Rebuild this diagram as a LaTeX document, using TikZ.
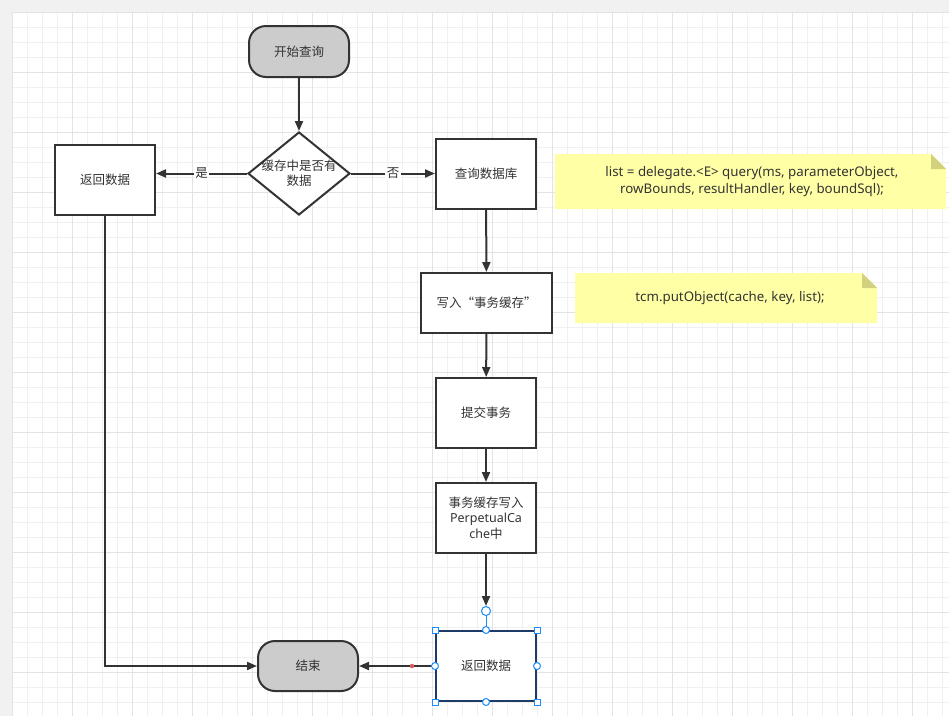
\documentclass[tikz,border=0pt]{standalone}
\usepackage{fontspec}
\setmainfont{Noto Sans CJK SC}
\newfontfamily\latinf{Noto Sans}
\usetikzlibrary{shapes.geometric,arrows.meta}
\definecolor{ln}{HTML}{333333}
\definecolor{txt}{HTML}{333333}
\definecolor{gry}{HTML}{CCCCCC}
\definecolor{bggray}{HTML}{F1F1F1}
\definecolor{minorc}{HTML}{F0F0F0}
\definecolor{majorc}{HTML}{E3E3E3}
\definecolor{notec}{HTML}{FFFFA6}
\definecolor{foldc}{HTML}{D2D27E}
\definecolor{selc}{HTML}{1E3A66}
\definecolor{handc}{HTML}{1A8CFF}
\definecolor{redc}{HTML}{E05A5A}
\tikzset{
  every node/.style={font=\fontsize{12.5pt}{15.5pt}\selectfont, text=txt},
  proc/.style={draw=ln, line width=2pt, fill=white, minimum width=100pt, minimum height=70pt, inner sep=0pt, align=center},
  term/.style={draw=ln, line width=2pt, fill=gry, rounded corners=17pt, minimum width=100pt, minimum height=51pt, inner sep=0pt},
  dec/.style={diamond, draw=ln, line width=2pt, fill=white, minimum width=102pt, minimum height=83pt, inner sep=0pt},
  conn/.style={draw=ln, line width=2pt, -{Triangle[length=10pt,width=8pt]}},
  lbl/.style={fill=white, inner sep=1.5pt},
  notetext/.style={align=center, font=\latinf\fontsize{13.3pt}{17pt}\selectfont},
  hcirc/.style={circle, draw=handc, line width=1pt, fill=white, inner sep=0pt, minimum size=7pt},
  hbig/.style={circle, draw=handc, line width=1pt, fill=white, inner sep=0pt, minimum size=9pt},
  hsq/.style={rectangle, draw=handc, line width=1pt, fill=white, inner sep=0pt, minimum size=6pt},
}
\begin{document}
\begin{tikzpicture}[x=1pt,y=-1pt]
\useasboundingbox (0,0) rectangle (949,716);
% background and grid
\fill[bggray] (0,0) rectangle (949,716);
\fill[white] (12,12) rectangle (949,716);
\foreach \i in {0,...,62} {\draw[minorc, line width=1pt] (12+15*\i,12) -- (12+15*\i,716);}
\foreach \j in {0,...,46} {\draw[minorc, line width=1pt] (12,12+15*\j) -- (949,12+15*\j);}
\foreach \i in {0,...,15} {\draw[majorc, line width=1pt] (12+60*\i,12) -- (12+60*\i,716);}
\foreach \j in {0,...,11} {\draw[majorc, line width=1pt] (12,12+60*\j) -- (949,12+60*\j);}

% notes
\fill[notec] (555,154) -- (931,154) -- (946,169) -- (946,209) -- (555,209) -- cycle;
\fill[foldc] (931,154) -- (931,169) -- (946,169) -- cycle;
\node[notetext] (n1) at (752,181.5) {list = delegate.<E> query(ms, parameterObject,\\rowBounds, resultHandler, key, boundSql);};
\fill[notec] (575,273) -- (862,273) -- (877,288) -- (877,323) -- (575,323) -- cycle;
\fill[foldc] (862,273) -- (862,288) -- (877,288) -- cycle;
\node[notetext] (n2) at (730,298) {tcm.putObject(cache, key, list);};

% nodes
\node[term] (start) at (299,51.5) {开始查询};
\node[dec] (dec) at (299,173.5) {};
\node[align=center] (dect) at (299,173.5) {缓存中是否有\\数据};
\node[proc] (lb) at (105,180) {返回数据};
\node[proc] (q) at (486,174) {查询数据库};
\node[proc, minimum width=131pt, minimum height=60pt] (w) at (486.5,303) {写入“事务缓存”};
\node[proc] (c) at (486,413) {提交事务};
\node[proc] (p) at (486,518) {事务缓存写入\\{\latinf PerpetualCa}\\{\latinf che}中};
\node[term, minimum height=50pt] (end) at (308,666) {结束};
\node[proc, draw=selc] (rb) at (486,666) {返回数据};

% connectors
\draw[conn] (start) -- (dec);
\draw[conn] (dec.west) -- node[lbl] (yes) {是} (dec.west -| lb.east);
\draw[conn] (dec.east) -- node[lbl] (no) {否} (dec.east -| q.west);
\draw[conn] (q) -- (w);
\draw[conn] (w) -- (c);
\draw[conn] (c) -- (p);
\node[hbig] (hc) at (486,611) {};
\draw[conn] (p) -- (hc.north);
\draw[conn] (lb.south) |- (end.west);
\draw[conn] (rb.west) -- (end.east);
\node[circle, fill=redc, inner sep=0pt, minimum size=4.5pt] (rd) at (412,666) {};

% selection handles
\draw[handc, line width=1pt] (hc.south) -- (rb.north);
\node[hsq] (h1) at (rb.north west) {};
\node[hsq] (h2) at (rb.north east) {};
\node[hsq] (h3) at (rb.south west) {};
\node[hsq] (h4) at (rb.south east) {};
\node[hcirc] (h5) at (rb.north) {};
\node[hcirc] (h6) at (rb.south) {};
\node[hcirc] (h7) at (rb.west) {};
\node[hcirc] (h8) at (rb.east) {};
\end{tikzpicture}
\end{document}
